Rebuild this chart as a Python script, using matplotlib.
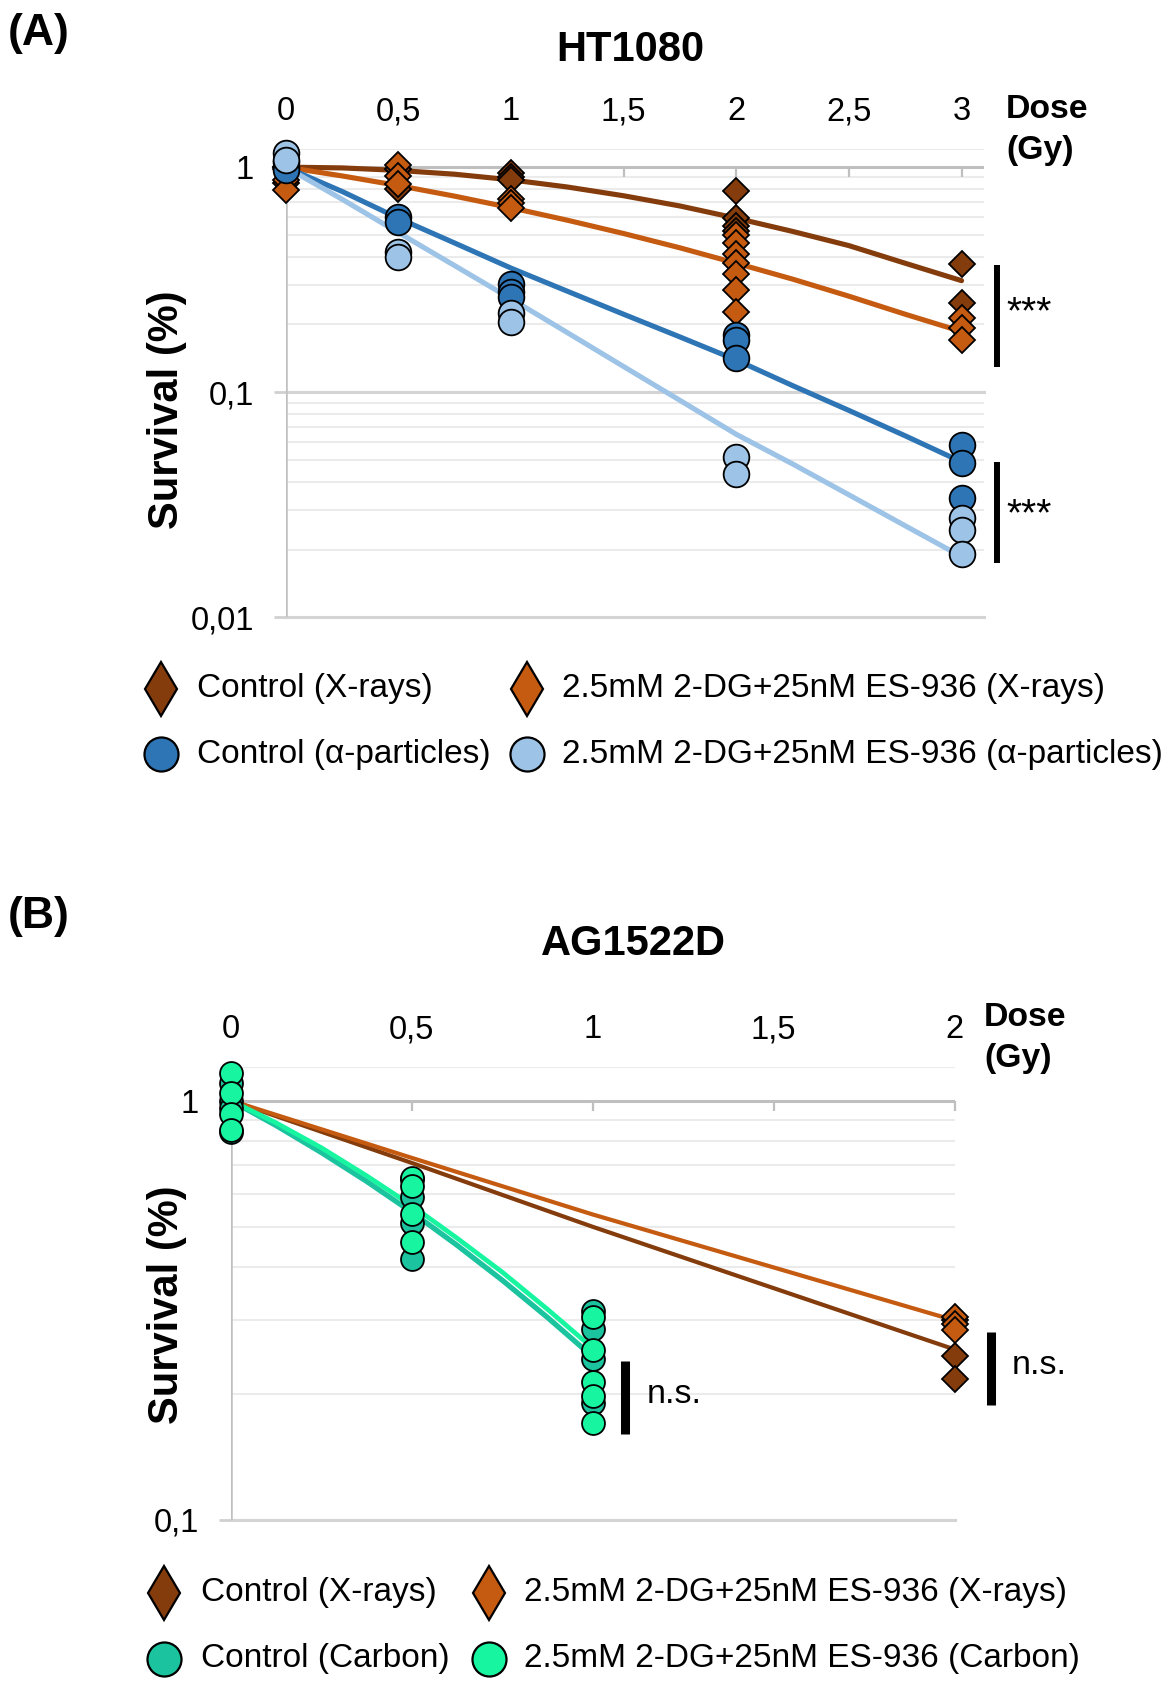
import matplotlib
matplotlib.use('Agg')
import matplotlib.pyplot as plt
from matplotlib.lines import Line2D
from matplotlib.ticker import NullLocator

plt.rcParams['font.family'] = ['Liberation Sans', 'DejaVu Sans']

# ---------------- DATA ----------------
# Panel A: HT1080
ctrlX_A_dose = [0, 0, 0, 0.5, 0.5, 1, 1, 1, 2, 2, 2, 2, 3, 3]
ctrlX_A_surv = [1.0, 0.98, 0.85, 0.98, 0.80, 0.946, 0.90, 0.878, 0.784, 0.593, 0.545, 0.52, 0.372, 0.25]
comboX_A_dose = [0, 0, 0, 0.5, 0.5, 0.5, 1, 1, 1, 2, 2, 2, 2, 2, 2, 2, 3, 3, 3]
comboX_A_surv = [1.0, 0.88, 0.79, 1.02, 0.91, 0.84, 0.72, 0.69, 0.66,
                 0.50, 0.46, 0.41, 0.375, 0.335, 0.285, 0.228, 0.213, 0.193, 0.171]
ctrlA_A_dose = [0, 0, 0, 0.5, 0.5, 1, 1, 1, 2, 2, 2, 3, 3, 3]
ctrlA_A_surv = [1.05, 1.0, 0.97, 0.60, 0.573, 0.303, 0.28, 0.266, 0.180, 0.171, 0.142, 0.0585, 0.0487, 0.0339]
comboA_A_dose = [0, 0, 0.5, 0.5, 1, 1, 2, 2, 3, 3, 3]
comboA_A_surv = [1.16, 1.08, 0.42, 0.40, 0.225, 0.206, 0.0513, 0.0434, 0.0275, 0.0245, 0.0191]

# fitted survival curves
fit_A_dose = [0, 0.25, 0.5, 0.75, 1, 1.25, 1.5, 1.75, 2, 2.25, 2.5, 2.75, 3]
fit_ctrlX_A = [1.0, 0.992, 0.967, 0.93, 0.878, 0.816, 0.746, 0.672, 0.593, 0.518, 0.448, 0.374, 0.313]
fit_comboX_A = [1.0, 0.914, 0.828, 0.743, 0.66, 0.581, 0.507, 0.438, 0.374, 0.318, 0.267, 0.222, 0.186]
fit_ctrlA_A = [1.0, 0.78, 0.593, 0.46, 0.356, 0.281, 0.222, 0.176, 0.139, 0.107, 0.083, 0.064, 0.049]
fit_comboA_A = [1.0, 0.72, 0.512, 0.365, 0.26, 0.184, 0.13, 0.092, 0.065, 0.048, 0.035, 0.0255, 0.0186]

# Panel B: AG1522D
ctrlX_B_dose = [2, 2, 2]
ctrlX_B_surv = [0.30, 0.246, 0.217]
comboX_B_dose = [2, 2, 2]
comboX_B_surv = [0.305, 0.293, 0.284]
ctrlC_B_dose = [0, 0, 0, 0, 0.5, 0.5, 0.5, 0.5, 1, 1, 1, 1]
ctrlC_B_surv = [1.10, 1.0, 0.96, 0.84, 0.65, 0.59, 0.51, 0.42, 0.315, 0.285, 0.242, 0.19]
comboC_B_dose = [0, 0, 0, 0, 0.5, 0.5, 0.5, 0.5, 1, 1, 1, 1, 1]
comboC_B_surv = [1.16, 1.04, 0.93, 0.85, 0.655, 0.625, 0.537, 0.46, 0.305, 0.254, 0.213, 0.198, 0.17]

fit_BX_dose = [0, 0.5, 1, 1.5, 2]
fit_ctrlX_B = [1.0, 0.71, 0.50, 0.357, 0.255]
fit_comboX_B = [1.0, 0.73, 0.535, 0.40, 0.299]
fit_BC_dose = [0, 0.125, 0.25, 0.375, 0.5, 0.625, 0.75, 0.875, 1.0]
fit_ctrlC_B = [1.0, 0.872, 0.752, 0.642, 0.542, 0.452, 0.373, 0.304, 0.245]
fit_comboC_B = [1.0, 0.885, 0.772, 0.662, 0.562, 0.47, 0.39, 0.318, 0.257]

xticks_A = [0, 0.5, 1, 1.5, 2, 2.5, 3]
xticks_B = [0, 0.5, 1, 1.5, 2]
xticklabels_A = ['0', '0,5', '1', '1,5', '2', '2,5', '3']
xticklabels_B = ['0', '0,5', '1', '1,5', '2']
yticks_A = [0.01, 0.1, 1]
yticklabels_A = ['0,01', '0,1', '1']
yticks_B = [0.1, 1]
yticklabels_B = ['0,1', '1']

labels_A = ['Control (X-rays)', '2.5mM 2-DG+25nM ES-936 (X-rays)',
            'Control (α-particles)', '2.5mM 2-DG+25nM ES-936 (α-particles)']
labels_B = ['Control (X-rays)', '2.5mM 2-DG+25nM ES-936 (X-rays)',
            'Control (Carbon)', '2.5mM 2-DG+25nM ES-936 (Carbon)']

# ---------------- STYLE ----------------
C_BROWN = '#843C0C'
C_ORANGE = '#C55A11'
C_DBLUE = '#2E75B6'
C_LBLUE = '#9DC3E6'
C_TEAL = '#1BC49E'
C_GREEN = '#18F5A0'

FS_TICK = 23.5
FS_LEG = 24.0
FS_TITLE = 30
FS_PANEL = 32

W, H = 1176, 1687
fig = plt.figure(figsize=(W / 100, H / 100), dpi=100)


def rect(l, r, t, b):
    return [l / W, 1 - b / H, (r - l) / W, (b - t) / H]


def fx(x):
    return x / W


def fy(y):
    return 1 - y / H


def style_axes(ax, xt, xtl, yt, ytl, ymin, ymax):
    for s in ax.spines.values():
        s.set_visible(False)
    ax.set_yscale('log')
    ax.set_ylim(ymin, ymax)
    dec = ymin
    while dec < 1:
        for m in range(2, 10):
            v = dec * m
            if v < 1:
                ax.axhline(v, color='#EBEBEB', lw=1.5, zorder=0)
        dec *= 10
    ax.axhline(1.2, color='#EBEBEB', lw=1.5, zorder=0)
    for v in yt:
        if v < 1:
            ax.axhline(v, color='#D4D4D4', lw=2.2, zorder=0.5, clip_on=False)
    ax.axhline(1, color='#BFBFBF', lw=2.2, zorder=1)
    ax.axvline(0, color='#BFBFBF', lw=1.8, zorder=1)
    ax.set_yticks(yt)
    ax.set_yticklabels(ytl)
    ax.yaxis.set_minor_locator(NullLocator())
    ax.tick_params(axis='y', length=9, width=2.0, color='#D0D0D0', pad=14,
                   labelsize=FS_TICK, labelcolor='black')
    ax.xaxis.tick_top()
    ax.set_xticks(xt)
    ax.set_xticklabels(xtl)
    ax.tick_params(axis='x', length=0, pad=16, labelsize=FS_TICK, labelcolor='black')
    ax.plot(xt[1:], [1] * (len(xt) - 1), linestyle='none', marker=3,
            markersize=7.2, mew=1.6, color='#BFBFBF', zorder=1, clip_on=False)
    ax.set_facecolor('none')


def pts(ax, x, y, marker, color, ms, z):
    ax.plot(x, y, linestyle='none', marker=marker, ms=ms, mfc=color, mec='black',
            mew=1.3, zorder=z, clip_on=False)


# ---------------- PANEL A ----------------
axA = fig.add_axes(rect(285.7, 984.1, 149.3, 617.3))
axA.set_xlim(0, 3.1)
style_axes(axA, xticks_A, xticklabels_A, yticks_A, yticklabels_A, 0.01, 1.2)

for yv, col in [(fit_ctrlX_A, C_BROWN), (fit_comboX_A, C_ORANGE),
                (fit_ctrlA_A, C_DBLUE), (fit_comboA_A, C_LBLUE)]:
    axA.plot(fit_A_dose, yv, color=col, lw=3.7, zorder=3,
             solid_capstyle='round', solid_joinstyle='round')

pts(axA, ctrlX_A_dose, ctrlX_A_surv, 'D', C_BROWN, 13.3, 4)
pts(axA, comboX_A_dose, comboX_A_surv, 'D', C_ORANGE, 13.3, 5)
pts(axA, ctrlA_A_dose, ctrlA_A_surv, 'o', C_DBLUE, 18.5, 6)
pts(axA, comboA_A_dose, comboA_A_surv, 'o', C_LBLUE, 18.5, 7)

axA.plot([3.156, 3.156], [0.368, 0.130], color='black', lw=4.3,
         solid_capstyle='butt', clip_on=False)
axA.text(3.20, 0.224, '***', fontsize=28, ha='left', va='center', clip_on=False)
axA.plot([3.156, 3.156], [0.049, 0.0175], color='black', lw=4.3,
         solid_capstyle='butt', clip_on=False)
axA.text(3.20, 0.0283, '***', fontsize=28, ha='left', va='center', clip_on=False)

fig.text(fx(8), fy(34), '(A)', fontsize=FS_PANEL, fontweight='bold', ha='left', va='center')
fig.text(fx(630), fy(50), 'HT1080', fontsize=FS_TITLE, fontweight='bold', ha='center', va='center')
fig.text(fx(167), fy(410), 'Survival (%)', fontsize=FS_TITLE, fontweight='bold', rotation=90,
         ha='center', va='center')
fig.text(fx(1006), fy(110), 'Dose', fontsize=24.3, fontweight='bold', ha='left', va='center')
fig.text(fx(1006), fy(151), '(Gy)', fontsize=24.3, fontweight='bold', ha='left', va='center')

# ---------------- PANEL B ----------------
axB = fig.add_axes(rect(230.7, 954.7, 1067.3, 1520))
axB.set_xlim(0, 2)
style_axes(axB, xticks_B, xticklabels_B, yticks_B, yticklabels_B, 0.1, 1.2)

axB.plot(fit_BX_dose, fit_ctrlX_B, color=C_BROWN, lw=3.0, zorder=3, solid_capstyle='round')
axB.plot(fit_BX_dose, fit_comboX_B, color=C_ORANGE, lw=3.0, zorder=3, solid_capstyle='round')
axB.plot(fit_BC_dose, fit_ctrlC_B, color=C_TEAL, lw=3.8, zorder=3, solid_capstyle='round',
         solid_joinstyle='round')
axB.plot(fit_BC_dose, fit_comboC_B, color=C_GREEN, lw=3.4, zorder=3.1, solid_capstyle='round',
         solid_joinstyle='round')

pts(axB, ctrlX_B_dose, ctrlX_B_surv, 'D', C_BROWN, 13.3, 4)
pts(axB, comboX_B_dose, comboX_B_surv, 'D', C_ORANGE, 13.3, 5)
pts(axB, ctrlC_B_dose, ctrlC_B_surv, 'o', C_TEAL, 16.5, 6)
pts(axB, comboC_B_dose, comboC_B_surv, 'o', C_GREEN, 16.5, 7)

axB.plot([1.089, 1.089], [0.240, 0.160], color='black', lw=6.5,
         solid_capstyle='butt', clip_on=False)
axB.text(1.148, 0.199, 'n.s.', fontsize=24.5, ha='left', va='center', clip_on=False)
axB.plot([2.10, 2.10], [0.281, 0.188], color='black', lw=6.5,
         solid_capstyle='butt', clip_on=False)
axB.text(2.158, 0.234, 'n.s.', fontsize=24.5, ha='left', va='center', clip_on=False)

fig.text(fx(8), fy(917), '(B)', fontsize=FS_PANEL, fontweight='bold', ha='left', va='center')
fig.text(fx(633), fy(944), 'AG1522D', fontsize=FS_TITLE, fontweight='bold', ha='center', va='center')
fig.text(fx(167), fy(1305), 'Survival (%)', fontsize=FS_TITLE, fontweight='bold', rotation=90,
         ha='center', va='center')
fig.text(fx(984), fy(1018), 'Dose', fontsize=24.3, fontweight='bold', ha='left', va='center')
fig.text(fx(984), fy(1058), '(Gy)', fontsize=24.3, fontweight='bold', ha='left', va='center')


# ---------------- LEGENDS ----------------
def legend_entry(xm, xt, y, marker, color, label):
    ms = 28 if marker == 'd' else 24.5
    fig.add_artist(Line2D([fx(xm)], [fy(y)], transform=fig.transFigure, marker=marker,
                          ms=ms, mfc=color, mec='black', mew=1.6, linestyle='none'))
    fig.text(fx(xt), fy(y), label, fontsize=FS_LEG, ha='left', va='center')


legend_entry(161, 197, 689, 'd', C_BROWN, labels_A[0])
legend_entry(527, 562, 689, 'd', C_ORANGE, labels_A[1])
legend_entry(161, 197, 754, 'o', C_DBLUE, labels_A[2])
legend_entry(527, 562, 754, 'o', C_LBLUE, labels_A[3])

legend_entry(164, 201, 1593, 'd', C_BROWN, labels_B[0])
legend_entry(489, 524, 1593, 'd', C_ORANGE, labels_B[1])
legend_entry(164, 201, 1659, 'o', C_TEAL, labels_B[2])
legend_entry(489, 524, 1659, 'o', C_GREEN, labels_B[3])

fig.savefig('out.png', dpi=100)
